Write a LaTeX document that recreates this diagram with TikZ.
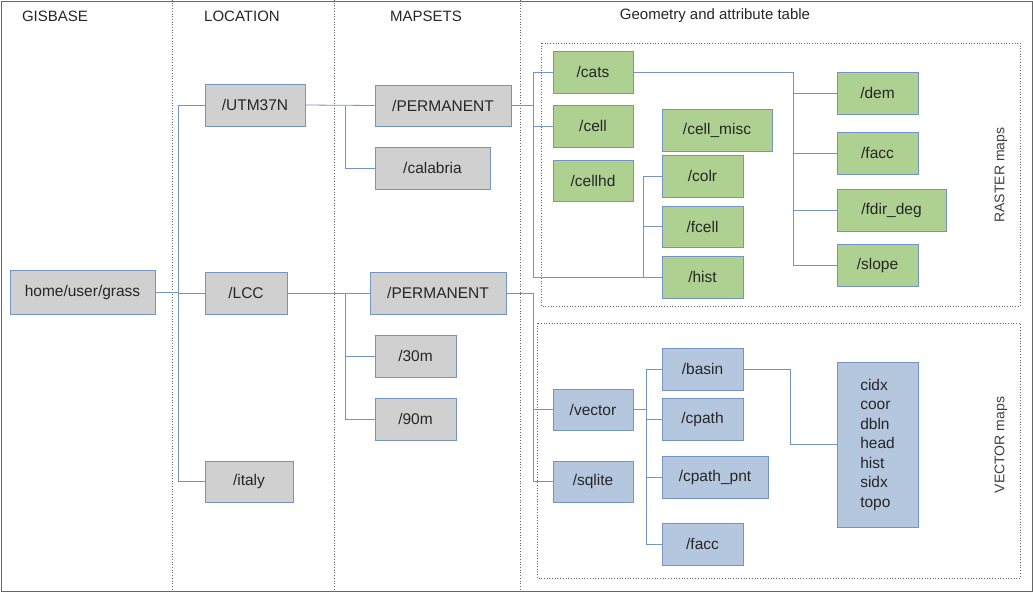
\documentclass[tikz,border=0pt]{standalone}
\usepackage{fontspec}
\setmainfont{Liberation Sans}
\definecolor{ln}{HTML}{7294C9}
\definecolor{gfill}{HTML}{D0D0D0}
\definecolor{grn}{HTML}{AED192}
\definecolor{blu}{HTML}{B4C7DE}
\newcommand\bx[7]{\node[box,fill=#2,minimum width={(#5-#3)*1pt},minimum height={(#6-#4)*1pt}] (#1) at ({(#3+#5)/2},{(#4+#6)/2}) {#7};}
\begin{document}
\begin{tikzpicture}[x=1pt,y=-1pt,
  box/.style={draw=ln,line width=0.9pt,inner sep=0pt,font=\fontsize{15.5}{18}\selectfont,text=black!85},
  conn/.style={draw=ln,line width=0.8pt},
  sep/.style={draw=black!60,dotted,line width=0.7pt},
  frame/.style={draw=black!60,dotted,line width=0.7pt},
  hdr/.style={font=\fontsize{15}{18}\selectfont,text=black!85},
  side/.style={font=\fontsize{14}{16}\selectfont,text=black!75,rotate=90}]
\useasboundingbox (0,0) rectangle (1033,595);
\draw[black!60,line width=0.8pt] (1,1) rectangle (1032,591);
\draw[sep] (172,0) -- (172,591);
\draw[sep] (334,0) -- (334,591);
\draw[sep] (520,0) -- (520,591);
\node[hdr] (h1) at (55,16) {GISBASE};
\node[hdr] (h2) at (242,16) {LOCATION};
\node[hdr] (h3) at (426,16) {MAPSETS};
\node[hdr] (h4) at (715,16) {Geometry and attribute table};
\draw[frame] (541,43) rectangle (1020,306);
\draw[frame] (537,323) rectangle (1020,578);
\node[side] (rl) at (1001,175) {RASTER maps};
\node[side] (vl) at (1001,445) {VECTOR maps};
\bx{grass}{gfill}{10}{270}{155}{314}{home/user/grass}
\bx{utm}{gfill}{205}{84}{305}{126}{/UTM37N}
\bx{lcc}{gfill}{205}{272}{287}{314}{/LCC}
\bx{italy}{gfill}{205}{461}{293}{502}{/italy}
\bx{perm1}{gfill}{375}{85}{511}{126}{/PERMANENT}
\bx{cal}{gfill}{375}{147}{490}{189}{/calabria}
\bx{perm2}{gfill}{370}{272}{506}{314}{/PERMANENT}
\bx{m30}{gfill}{375}{335}{456}{377}{/30m}
\bx{m90}{gfill}{375}{398}{456}{440}{/90m}
\bx{cats}{grn}{553}{51}{633}{93}{/cats}
\bx{cell}{grn}{553}{105}{633}{147}{/cell}
\bx{cellhd}{grn}{553}{160}{633}{201}{/cellhd}
\bx{misc}{grn}{662}{109}{772}{151}{/cell\_misc}
\bx{colr}{grn}{662}{155}{743}{197}{/colr}
\bx{fcell}{grn}{662}{206}{743}{247}{/fcell}
\bx{hist}{grn}{662}{256}{743}{298}{/hist}
\bx{dem}{grn}{837}{72}{918}{114}{/dem}
\bx{facc}{grn}{837}{132}{918}{174}{/facc}
\bx{fdir}{grn}{837}{189}{946}{231}{/fdir\_deg}
\bx{slope}{grn}{837}{244}{918}{286}{/slope}
\bx{vector}{blu}{553}{389}{633}{430}{/vector}
\bx{sqlite}{blu}{553}{461}{633}{502}{/sqlite}
\bx{basin}{blu}{662}{348}{743}{390}{/basin}
\bx{cpath}{blu}{662}{398}{743}{440}{/cpath}
\bx{cpnt}{blu}{662}{456}{768}{498}{/cpath\_pnt}
\bx{vfacc}{blu}{662}{523}{743}{565}{/facc}
\node[box,fill=blu,minimum width=81pt,minimum height=165pt,align=left,font=\fontsize{15.5}{19.5}\selectfont] (lst) at (877.5,444.5) {cidx\\coor\\dbln\\head\\hist\\sidx\\topo};
\coordinate (b1) at (178,0);
\coordinate (b2) at (345,0);
\coordinate (b3) at (533,0);
\coordinate (b4) at (643,0);
\coordinate (b5) at (793,0);
\coordinate (b6) at (646,0);
\coordinate (b7) at (790,0);
\coordinate (yh) at (0,277);
% GISBASE -> locations
\draw[conn] (grass.east) -- (grass.east -| b1);
\draw[conn] (utm.west -| b1) -- (italy.west -| b1);
\draw[conn] (utm.west -| b1) -- (utm.west);
\draw[conn] (lcc.west -| b1) -- (lcc.west);
\draw[conn] (italy.west -| b1) -- (italy.west);
% locations -> mapsets
\draw[conn] (utm.east) -- (perm1.west);
\draw[conn] (perm1.west -| b2) -- (cal.west -| b2) -- (cal.west);
\draw[conn] (lcc.east) -- (perm2.west);
\draw[conn] (perm2.west -| b2) -- (m90.west -| b2) -- (m90.west);
\draw[conn] (m30.west -| b2) -- (m30.west);
% raster
\draw[conn] (perm1.east) -- (perm1.east -| b3);
\draw[conn] (cats.west -| b3) -- (yh -| b3) -- (hist.west |- yh);
\draw[conn] (cats.west -| b3) -- (cats.west);
\draw[conn] (cell.west -| b3) -- (cell.west);
\draw[conn] (colr.west -| b4) -- (yh -| b4);
\draw[conn] (colr.west -| b4) -- (colr.west);
\draw[conn] (fcell.west -| b4) -- (fcell.west);
\draw[conn] (cats.east) -- (cats.east -| b5) -- (slope.west -| b5) -- (slope.west);
\draw[conn] (dem.west -| b5) -- (dem.west);
\draw[conn] (facc.west -| b5) -- (facc.west);
\draw[conn] (fdir.west -| b5) -- (fdir.west);
% vector
\draw[conn] (perm2.east) -- (perm2.east -| b3) -- (sqlite.west -| b3) -- (sqlite.west);
\draw[conn] (vector.west -| b3) -- (vector.west);
\draw[conn] (vector.east) -- (vector.east -| b6);
\draw[conn] (basin.west -| b6) -- (vfacc.west -| b6) -- (vfacc.west);
\draw[conn] (basin.west -| b6) -- (basin.west);
\draw[conn] (cpath.west -| b6) -- (cpath.west);
\draw[conn] (cpnt.west -| b6) -- (cpnt.west);
\draw[conn] (basin.east) -- (basin.east -| b7) -- (lst.west -| b7) -- (lst.west);
\end{tikzpicture}
\end{document}
